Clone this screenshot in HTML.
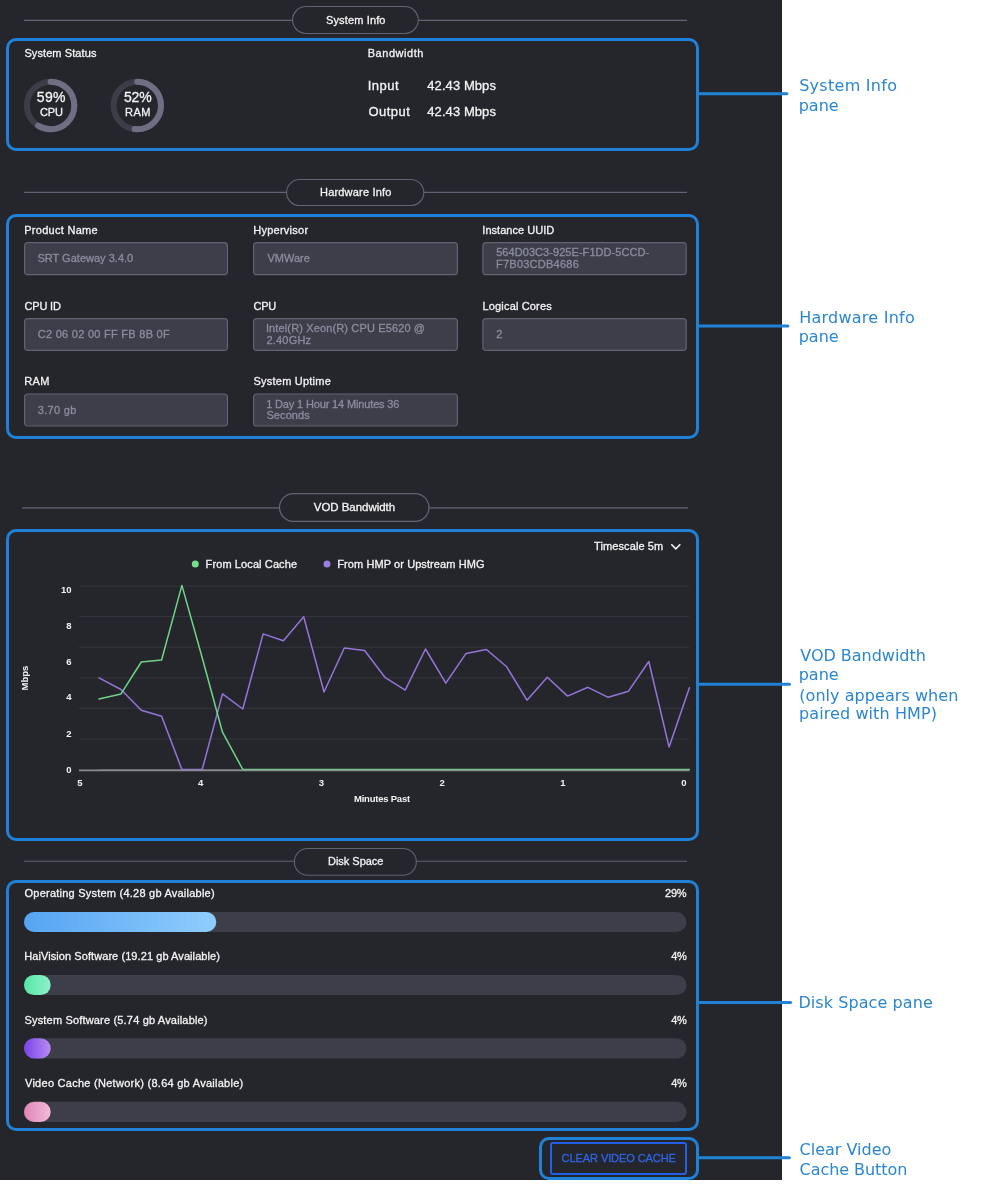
<!DOCTYPE html>
<html lang="en"><head><meta charset="utf-8"><title>SRT Gateway - System Info</title>
<style>

html,body{margin:0;padding:0;background:#fff;}
body{width:984px;height:1200px;position:relative;overflow:hidden;font-family:'Liberation Sans', sans-serif;-webkit-font-smoothing:antialiased;}
.panel{position:absolute;left:0;top:0;width:782px;height:1180px;background:#25262b;}
.t{position:absolute;white-space:pre;margin:0;padding:0;-webkit-text-stroke:0.3px currentColor;}
.a{-webkit-text-stroke:0;}
.hl{position:absolute;box-sizing:border-box;border:3px solid #1f82d8;border-radius:10px;}
.btn{position:absolute;box-sizing:border-box;border:2px solid #2460e6;border-radius:3px;background:transparent;}
svg{position:absolute;left:0;top:0;overflow:visible;}

</style></head><body>
<div class="panel"></div>
<svg width="984" height="1200" viewBox="0 0 984 1200">
<line x1="24" x2="687" y1="20.4" y2="20.4" stroke="#626376" stroke-width="1.1"/>
<line x1="24" x2="687" y1="192.4" y2="192.4" stroke="#626376" stroke-width="1.1"/>
<line x1="22" x2="688" y1="507.8" y2="507.8" stroke="#626376" stroke-width="1.3"/>
<line x1="24" x2="687" y1="861.3" y2="861.3" stroke="#626376" stroke-width="1.1"/>
</svg>
<svg width="984" height="1200" viewBox="0 0 984 1200">
<rect x="292.55" y="6.55" width="125.70" height="26.90" rx="13.45" fill="#25262b" stroke="#626373" stroke-width="1.1"/>
<rect x="286.55" y="179.55" width="137.30" height="26.00" rx="13.00" fill="#25262b" stroke="#626373" stroke-width="1.1"/>
<rect x="279.52" y="493.52" width="149.45" height="27.75" rx="13.88" fill="#25262b" stroke="#626373" stroke-width="1.25"/>
<rect x="294.35" y="848.55" width="122.00" height="26.70" rx="13.35" fill="#25262b" stroke="#626373" stroke-width="1.1"/>
</svg>
<svg width="984" height="1200" viewBox="0 0 984 1200">
<rect x="24.60" y="242.60" width="202.85" height="32.10" rx="3.2" fill="#3d3e49" stroke="#626374" stroke-width="1.2"/>
<rect x="24.60" y="318.60" width="202.85" height="31.80" rx="3.2" fill="#3d3e49" stroke="#626374" stroke-width="1.2"/>
<rect x="24.60" y="394.00" width="202.85" height="32.00" rx="3.2" fill="#3d3e49" stroke="#626374" stroke-width="1.2"/>
<rect x="253.60" y="242.60" width="203.80" height="32.10" rx="3.2" fill="#3d3e49" stroke="#626374" stroke-width="1.2"/>
<rect x="253.60" y="318.60" width="203.80" height="31.80" rx="3.2" fill="#3d3e49" stroke="#626374" stroke-width="1.2"/>
<rect x="253.60" y="394.00" width="203.80" height="32.00" rx="3.2" fill="#3d3e49" stroke="#626374" stroke-width="1.2"/>
<rect x="482.90" y="242.60" width="203.30" height="32.10" rx="3.2" fill="#3d3e49" stroke="#626374" stroke-width="1.2"/>
<rect x="482.90" y="318.60" width="203.30" height="31.80" rx="3.2" fill="#3d3e49" stroke="#626374" stroke-width="1.2"/>
</svg>
<svg width="984" height="1200" viewBox="0 0 984 1200">
<defs>
<linearGradient id="g0" x1="0" y1="0" x2="1" y2="0"><stop offset="0" stop-color="#56a4f3"/><stop offset="1" stop-color="#8fcdfc"/></linearGradient>
<linearGradient id="g1" x1="0" y1="0" x2="1" y2="0"><stop offset="0" stop-color="#55e6a5"/><stop offset="1" stop-color="#8ff1c8"/></linearGradient>
<linearGradient id="g2" x1="0" y1="0" x2="1" y2="0"><stop offset="0" stop-color="#7a43e8"/><stop offset="1" stop-color="#b78cf3"/></linearGradient>
<linearGradient id="g3" x1="0" y1="0" x2="1" y2="0"><stop offset="0" stop-color="#df85b6"/><stop offset="1" stop-color="#f2bcd9"/></linearGradient>
</defs>
<rect x="24" y="912.0" width="662.5" height="20.0" rx="10.00" fill="#3d3e49"/>
<rect x="24" y="912.0" width="192.3" height="20.0" rx="10.00" fill="url(#g0)"/>
<rect x="24" y="974.9" width="662.5" height="20.2" rx="10.10" fill="#3d3e49"/>
<rect x="24" y="974.9" width="26.7" height="20.2" rx="10.10" fill="url(#g1)"/>
<rect x="24" y="1038.3" width="662.5" height="20.2" rx="10.10" fill="#3d3e49"/>
<rect x="24" y="1038.3" width="26.7" height="20.2" rx="10.10" fill="url(#g2)"/>
<rect x="24" y="1101.8" width="662.5" height="20.2" rx="10.10" fill="#3d3e49"/>
<rect x="24" y="1101.8" width="26.7" height="20.2" rx="10.10" fill="url(#g3)"/>
</svg>
<div class="btn" style="left:550px;top:1142px;width:137px;height:33px"></div>
<svg width="984" height="1200" viewBox="0 0 984 1200">
<circle cx="50.6" cy="105.5" r="23.7" fill="none" stroke="#3c3d48" stroke-width="6"/>
<circle cx="50.6" cy="105.5" r="23.7" fill="none" stroke="#6f6f84" stroke-width="6" stroke-linecap="round" stroke-dasharray="87.11 148.91" transform="rotate(-90 50.6 105.5)"/>
<circle cx="137.3" cy="105.5" r="23.7" fill="none" stroke="#3c3d48" stroke-width="6"/>
<circle cx="137.3" cy="105.5" r="23.7" fill="none" stroke="#6f6f84" stroke-width="6" stroke-linecap="round" stroke-dasharray="76.69 148.91" transform="rotate(-90 137.3 105.5)"/>
<line x1="79" x2="689.3" y1="586.1" y2="586.1" stroke="#36373e" stroke-width="1"/>
<line x1="79" x2="689.3" y1="616.6" y2="616.6" stroke="#36373e" stroke-width="1"/>
<line x1="79" x2="689.3" y1="647.2" y2="647.2" stroke="#36373e" stroke-width="1"/>
<line x1="79" x2="689.3" y1="677.8" y2="677.8" stroke="#36373e" stroke-width="1"/>
<line x1="79" x2="689.3" y1="708.3" y2="708.3" stroke="#36373e" stroke-width="1"/>
<line x1="79" x2="689.3" y1="738.9" y2="738.9" stroke="#36373e" stroke-width="1"/>
<line x1="79" x2="689.3" y1="770.4" y2="770.4" stroke="#8c8c8e" stroke-width="1.8"/>
<polyline points="99.0,677.8 121.0,689.5 141.3,710.2 161.6,716.3 181.9,769.5 202.2,769.5 222.5,693.9 242.8,709.0 263.1,633.9 283.4,640.7 303.7,616.8 324.0,692.0 344.3,648.0 364.6,650.5 384.9,677.3 405.2,690.2 425.5,649.0 445.8,683.2 466.1,653.4 486.4,649.5 506.7,666.8 527.0,700.2 547.3,677.3 567.6,696.1 587.9,687.3 608.2,697.3 628.5,691.2 648.8,661.5 669.1,747.1 689.4,687.8" fill="none" stroke="#9575d8" stroke-width="1.5" stroke-linejoin="round" stroke-linecap="round"/>
<polyline points="99.0,699.0 121.0,693.9 141.3,662.0 161.6,660.0 181.9,585.4 202.2,657.8 222.5,732.2 242.8,769.5 263.1,769.5 283.4,769.5 303.7,769.5 324.0,769.5 344.3,769.5 364.6,769.5 384.9,769.5 405.2,769.5 425.5,769.5 445.8,769.5 466.1,769.5 486.4,769.5 506.7,769.5 527.0,769.5 547.3,769.5 567.6,769.5 587.9,769.5 608.2,769.5 628.5,769.5 648.8,769.5 669.1,769.5 689.4,769.5" fill="none" stroke="#6fd487" stroke-width="1.5" stroke-linejoin="round" stroke-linecap="round"/>
<line x1="99" x2="689.3" y1="770.0" y2="770.0" stroke="#8c8c8e" stroke-width="1.6" opacity="0.45"/>
<circle cx="195.3" cy="563.9" r="3.5" fill="#72e08c"/>
<circle cx="327" cy="563.9" r="3.5" fill="#9b7de6"/>
<polyline points="671.3,544.2 675.8,548.8 680.3,544.2" fill="none" stroke="#f3f3f4" stroke-width="1.6"/>
</svg>
<div class="t" style="left:25.1px;top:677.8px;width:0;height:0;"><div style="position:absolute;white-space:pre;font-size:9.5px;font-weight:700;-webkit-text-stroke:0;color:#f3f3f4;line-height:10px;transform:translate(-50%,-50%) rotate(-90deg);">Mbps</div></div>
<div class="hl" style="left:6px;top:38px;width:693px;height:113px"></div>
<div class="hl" style="left:6px;top:214px;width:693px;height:225px"></div>
<div class="hl" style="left:6px;top:529px;width:693px;height:312px"></div>
<div class="hl" style="left:6px;top:880px;width:693px;height:251px"></div>
<div class="hl" style="left:539px;top:1137px;width:160px;height:43px"></div>
<svg width="984" height="1200" viewBox="0 0 984 1200">
<line x1="698" x2="786.9" y1="93.8" y2="93.8" stroke="#1f82d8" stroke-width="3" stroke-linecap="round"/>
<line x1="698" x2="787.9" y1="325.9" y2="325.9" stroke="#1f82d8" stroke-width="3" stroke-linecap="round"/>
<line x1="698" x2="789.4" y1="684.2" y2="684.2" stroke="#1f82d8" stroke-width="3" stroke-linecap="round"/>
<line x1="698" x2="790.5" y1="1002.4" y2="1002.4" stroke="#1f82d8" stroke-width="3" stroke-linecap="round"/>
<line x1="698" x2="789.4" y1="1157.7" y2="1157.7" stroke="#1f82d8" stroke-width="3" stroke-linecap="round"/>
</svg>
<div class="t" style="top:15px;font-size:11px;line-height:11px;color:#f3f3f4;letter-spacing:0.15px;left:325.90px;">System Info</div>
<div class="t" style="top:187px;font-size:11px;line-height:11px;color:#f3f3f4;letter-spacing:0.183px;left:320.05px;">Hardware Info</div>
<div class="t" style="top:502px;font-size:11.5px;line-height:11.5px;color:#f3f3f4;letter-spacing:-0.042px;left:313.80px;">VOD Bandwidth</div>
<div class="t" style="top:856px;font-size:11px;line-height:11px;color:#f3f3f4;letter-spacing:-0.033px;left:328.05px;">Disk Space</div>
<div class="t" style="top:48px;font-size:11px;line-height:11px;color:#f3f3f4;letter-spacing:0.092px;left:24.40px;">System Status</div>
<div class="t" style="top:48px;font-size:11px;line-height:11px;color:#f3f3f4;letter-spacing:0.537px;left:367.75px;">Bandwidth</div>
<div class="t" style="top:79px;font-size:13px;line-height:13px;color:#f3f3f4;letter-spacing:0.525px;left:367.65px;">Input</div>
<div class="t" style="top:79px;font-size:13px;line-height:13px;color:#f3f3f4;letter-spacing:0.083px;left:427.25px;">42.43 Mbps</div>
<div class="t" style="top:105px;font-size:13px;line-height:13px;color:#f3f3f4;letter-spacing:0.48px;left:368.40px;">Output</div>
<div class="t" style="top:105px;font-size:13px;line-height:13px;color:#f3f3f4;letter-spacing:0.083px;left:427.25px;">42.43 Mbps</div>
<div class="t" style="top:90px;font-size:14px;line-height:14px;color:#f3f3f4;letter-spacing:0.3px;left:36.80px;">59%</div>
<div class="t" style="top:107px;font-size:11px;line-height:11px;color:#f3f3f4;letter-spacing:-0.05px;left:39.90px;">CPU</div>
<div class="t" style="top:90px;font-size:14px;line-height:14px;color:#f3f3f4;letter-spacing:-0.1px;left:123.90px;">52%</div>
<div class="t" style="top:107px;font-size:11px;line-height:11px;color:#f3f3f4;letter-spacing:0.425px;left:125.05px;">RAM</div>
<div class="t" style="top:225px;font-size:11px;line-height:11px;color:#f3f3f4;letter-spacing:0.282px;left:24.25px;">Product Name</div>
<div class="t" style="top:225px;font-size:11px;line-height:11px;color:#f3f3f4;letter-spacing:0.25px;left:253.25px;">Hypervisor</div>
<div class="t" style="top:225px;font-size:11px;line-height:11px;color:#f3f3f4;letter-spacing:0.033px;left:482.30px;">Instance UUID</div>
<div class="t" style="top:301px;font-size:11px;line-height:11px;color:#f3f3f4;letter-spacing:-0.17px;left:24.50px;">CPU ID</div>
<div class="t" style="top:301px;font-size:11px;line-height:11px;color:#f3f3f4;letter-spacing:-0.3px;left:253.50px;">CPU</div>
<div class="t" style="top:301px;font-size:11px;line-height:11px;color:#f3f3f4;letter-spacing:0.158px;left:482.55px;">Logical Cores</div>
<div class="t" style="top:376px;font-size:11px;line-height:11px;color:#f3f3f4;letter-spacing:0.325px;left:24.25px;">RAM</div>
<div class="t" style="top:376px;font-size:11px;line-height:11px;color:#f3f3f4;letter-spacing:0.225px;left:253.50px;">System Uptime</div>
<div class="t" style="top:253px;font-size:11px;line-height:11px;color:#8b8da0;letter-spacing:0.016px;left:37.40px;">SRT Gateway 3.4.0</div>
<div class="t" style="top:253px;font-size:11px;line-height:11px;color:#8b8da0;letter-spacing:0.02px;left:267.40px;">VMWare</div>
<div class="t" style="top:247px;font-size:11px;line-height:11px;color:#8b8da0;letter-spacing:0.059px;left:496.20px;">564D03C3-925E-F1DD-5CCD-</div>
<div class="t" style="top:259px;font-size:11px;line-height:11px;color:#8b8da0;letter-spacing:0.255px;left:495.95px;">F7B03CDB4686</div>
<div class="t" style="top:329px;font-size:11px;line-height:11px;color:#8b8da0;letter-spacing:0.277px;left:37.70px;">C2 06 02 00 FF FB 8B 0F</div>
<div class="t" style="top:323px;font-size:11px;line-height:11px;color:#8b8da0;letter-spacing:0.137px;left:265.90px;">Intel(R) Xeon(R) CPU E5620 @</div>
<div class="t" style="top:335px;font-size:11px;line-height:11px;color:#8b8da0;letter-spacing:0.217px;left:266.40px;">2.40GHz</div>
<div class="t" style="top:329px;font-size:11px;line-height:11px;color:#8b8da0;left:496.20px;">2</div>
<div class="t" style="top:405px;font-size:11px;line-height:11px;color:#8b8da0;letter-spacing:0.325px;left:37.70px;">3.70 gb</div>
<div class="t" style="top:399px;font-size:11px;line-height:11px;color:#8b8da0;letter-spacing:-0.146px;left:266.15px;">1 Day 1 Hour 14 Minutes 36</div>
<div class="t" style="top:410px;font-size:11px;line-height:11px;color:#8b8da0;letter-spacing:0.1px;left:266.40px;">Seconds</div>
<div class="t" style="top:541px;font-size:11px;line-height:11px;color:#f3f3f4;letter-spacing:0.1px;left:594.05px;">Timescale 5m</div>
<div class="t" style="top:559px;font-size:11px;line-height:11px;color:#f3f3f4;letter-spacing:0.11px;left:205.55px;">From Local Cache</div>
<div class="t" style="top:559px;font-size:11px;line-height:11px;color:#f3f3f4;letter-spacing:0.085px;left:337.25px;">From HMP or Upstream HMG</div>
<div class="t a" style="top:794px;font-size:9.5px;line-height:9.5px;color:#f3f3f4;font-weight:700;letter-spacing:-0.227px;left:354.00px;">Minutes Past</div>
<div class="t" style="top:888px;font-size:11px;line-height:11px;color:#f3f3f4;letter-spacing:0.231px;left:24.50px;">Operating System (4.28 gb Available)</div>
<div class="t" style="top:951px;font-size:11px;line-height:11px;color:#f3f3f4;letter-spacing:0.074px;left:24.25px;">HaiVision Software (19.21 gb Available)</div>
<div class="t" style="top:1015px;font-size:11px;line-height:11px;color:#f3f3f4;letter-spacing:0.174px;left:24.50px;">System Software (5.74 gb Available)</div>
<div class="t" style="top:1078px;font-size:11px;line-height:11px;color:#f3f3f4;letter-spacing:0.269px;left:25.00px;">Video Cache (Network) (8.64 gb Available)</div>
<div class="t" style="top:888px;font-size:11px;line-height:11px;color:#f3f3f4;letter-spacing:-0.3px;left:665.10px;">29%</div>
<div class="t" style="top:951px;font-size:11px;line-height:11px;color:#f3f3f4;letter-spacing:-0.3px;left:671.25px;">4%</div>
<div class="t" style="top:1015px;font-size:11px;line-height:11px;color:#f3f3f4;letter-spacing:-0.3px;left:671.25px;">4%</div>
<div class="t" style="top:1078px;font-size:11px;line-height:11px;color:#f3f3f4;letter-spacing:-0.3px;left:671.25px;">4%</div>
<div class="t" style="top:1153px;font-size:11px;line-height:11px;color:#2d66e6;letter-spacing:-0.075px;left:561.60px;">CLEAR VIDEO CACHE</div>
<div class="t a" style="top:78px;font-size:16px;line-height:16px;color:#2b86d2;font-family:'DejaVu Sans', 'Liberation Sans', sans-serif;letter-spacing:0.275px;left:799.20px;">System Info</div>
<div class="t a" style="top:98px;font-size:16px;line-height:16px;color:#2b86d2;font-family:'DejaVu Sans', 'Liberation Sans', sans-serif;letter-spacing:0.017px;left:798.70px;">pane</div>
<div class="t a" style="top:310px;font-size:16px;line-height:16px;color:#2b86d2;font-family:'DejaVu Sans', 'Liberation Sans', sans-serif;letter-spacing:0.246px;left:799.20px;">Hardware Info</div>
<div class="t a" style="top:329px;font-size:16px;line-height:16px;color:#2b86d2;font-family:'DejaVu Sans', 'Liberation Sans', sans-serif;letter-spacing:0.017px;left:798.70px;">pane</div>
<div class="t a" style="top:648px;font-size:16px;line-height:16px;color:#2b86d2;font-family:'DejaVu Sans', 'Liberation Sans', sans-serif;letter-spacing:-0.021px;left:800.25px;">VOD Bandwidth</div>
<div class="t a" style="top:667px;font-size:16px;line-height:16px;color:#2b86d2;font-family:'DejaVu Sans', 'Liberation Sans', sans-serif;letter-spacing:0.017px;left:798.70px;">pane</div>
<div class="t a" style="top:688px;font-size:16px;line-height:16px;color:#2b86d2;font-family:'DejaVu Sans', 'Liberation Sans', sans-serif;letter-spacing:0.053px;left:799.25px;">(only appears when</div>
<div class="t a" style="top:706px;font-size:16px;line-height:16px;color:#2b86d2;font-family:'DejaVu Sans', 'Liberation Sans', sans-serif;letter-spacing:0.097px;left:799.00px;">paired with HMP)</div>
<div class="t a" style="top:995px;font-size:16px;line-height:16px;color:#2b86d2;font-family:'DejaVu Sans', 'Liberation Sans', sans-serif;letter-spacing:0.079px;left:798.40px;">Disk Space pane</div>
<div class="t a" style="top:1142px;font-size:16px;line-height:16px;color:#2b86d2;font-family:'DejaVu Sans', 'Liberation Sans', sans-serif;letter-spacing:-0.005px;left:799.55px;">Clear Video</div>
<div class="t a" style="top:1162px;font-size:16px;line-height:16px;color:#2b86d2;font-family:'DejaVu Sans', 'Liberation Sans', sans-serif;letter-spacing:-0.055px;left:799.55px;">Cache Button</div>
<div class="t a" style="top:585px;font-size:9.5px;line-height:9.5px;color:#f3f3f4;font-weight:700;right:912.5px;">10</div>
<div class="t a" style="top:621px;font-size:9.5px;line-height:9.5px;color:#f3f3f4;font-weight:700;right:912.5px;">8</div>
<div class="t a" style="top:657px;font-size:9.5px;line-height:9.5px;color:#f3f3f4;font-weight:700;right:912.5px;">6</div>
<div class="t a" style="top:692px;font-size:9.5px;line-height:9.5px;color:#f3f3f4;font-weight:700;right:912.5px;">4</div>
<div class="t a" style="top:729px;font-size:9.5px;line-height:9.5px;color:#f3f3f4;font-weight:700;right:912.5px;">2</div>
<div class="t a" style="top:765px;font-size:9.5px;line-height:9.5px;color:#f3f3f4;font-weight:700;right:912.5px;">0</div>
<div class="t a" style="top:778px;font-size:9.5px;line-height:9.5px;color:#f3f3f4;font-weight:700;left:59.8px;width:40px;text-align:center;">5</div>
<div class="t a" style="top:778px;font-size:9.5px;line-height:9.5px;color:#f3f3f4;font-weight:700;left:180.6px;width:40px;text-align:center;">4</div>
<div class="t a" style="top:778px;font-size:9.5px;line-height:9.5px;color:#f3f3f4;font-weight:700;left:301.4px;width:40px;text-align:center;">3</div>
<div class="t a" style="top:778px;font-size:9.5px;line-height:9.5px;color:#f3f3f4;font-weight:700;left:422.2px;width:40px;text-align:center;">2</div>
<div class="t a" style="top:778px;font-size:9.5px;line-height:9.5px;color:#f3f3f4;font-weight:700;left:543.0px;width:40px;text-align:center;">1</div>
<div class="t a" style="top:778px;font-size:9.5px;line-height:9.5px;color:#f3f3f4;font-weight:700;left:663.8px;width:40px;text-align:center;">0</div>
</body></html>
